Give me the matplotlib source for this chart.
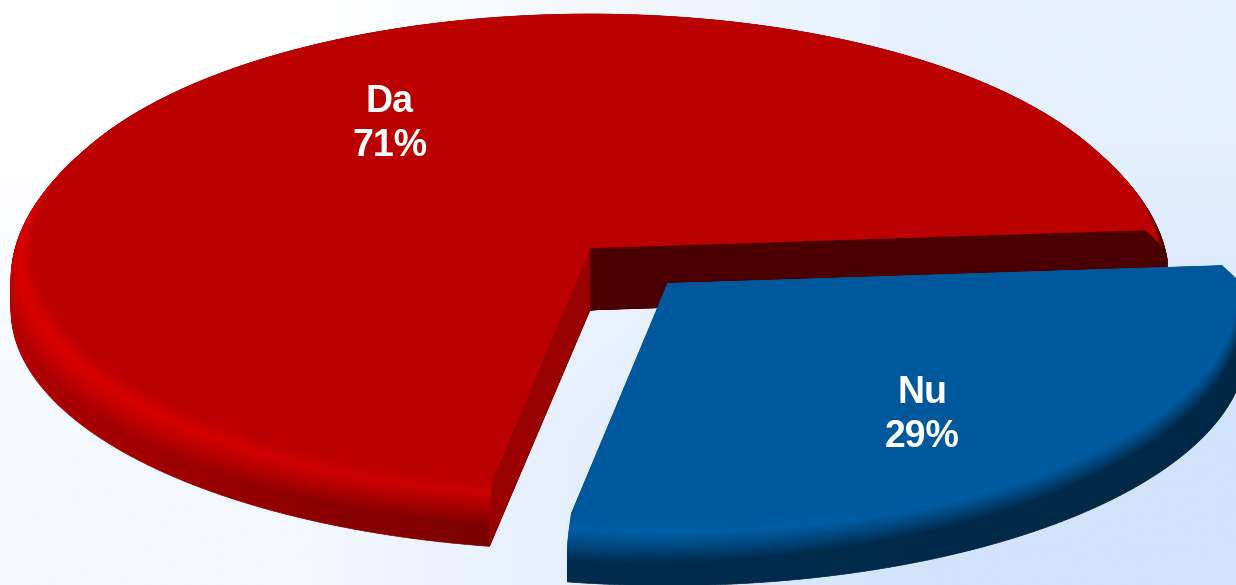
import numpy as np
import matplotlib
matplotlib.use('Agg')
import matplotlib.pyplot as plt
from matplotlib.collections import PolyCollection
from matplotlib.colors import to_rgb

categories = ['Da', 'Nu']
shares = [71, 29]

# pie geometry in pixels
cx, cy = 590, 248
rx_flat, ry_flat = 556, 234
rx_out, ry_out = 579, 240
depth = 62
start_angle = -4.4
explode = 0.2

flat_colors = ['#BA0000', '#00589C']
wall_colors = [['#4A0000', '#990000'], [None, None]]
angle_stops = [-10, 100, 140, 180, 220, 270, 330, 360]
dark_at = [20, 42, 42, 38, 38, 30, 22, 20]
bright_stops = [
    ['#BA0000', '#C80000', '#D60000', '#DA0000', '#CE0000', '#BA0000', '#BA0000', '#BA0000'],
    ['#00589C', '#005EA6', '#00589C', '#00589C', '#00589C', '#00589C', '#00589C', '#00589C'],
]
dark_stops = [
    ['#7A0000', '#7A0000', '#A00000', '#B80000', '#B80000', '#A00000', '#6A0000', '#3A0000'],
    ['#002642', '#002B4D', '#002B4D', '#002B4D', '#002B4D', '#002B4D', '#002B4D', '#002B4D'],
]


def profile(n=64):
    # rounded edge first, then the straight side of the disc
    dy = np.linspace(0, depth, n)
    grow = np.sin(np.pi / 2 * np.clip(dy / 32, 0, 1))
    return dy, rx_flat + (rx_out - rx_flat) * grow, ry_flat + (ry_out - ry_flat) * grow


def blend(stops, angle):
    rgb = np.array([to_rgb(c) for c in stops])
    return np.array([np.interp(angle, angle_stops, rgb[:, k]) for k in range(3)])


def rim_color(i, angle, dy):
    flat = np.array(to_rgb(flat_colors[i]))
    bright = blend(bright_stops[i], angle)
    dark = blend(dark_stops[i], angle)
    stop = np.interp(angle, angle_stops, dark_at)
    if dy < 12:
        return flat + (bright - flat) * dy / 12
    if dy < stop:
        return bright + (dark - bright) * (dy - 12) / (stop - 12)
    return dark


def draw_slice(ax, i, a0, a1, ox, oy):
    dy, rx, ry = profile()
    angles = np.linspace(a0, a1, 200)
    rad = np.radians(angles)

    # walls of the cuts
    for k, a in enumerate([a0, a1]):
        if wall_colors[i][k] is None:
            continue
        t = np.radians(a)
        px = cx + ox + rx * np.cos(t)
        py = cy + oy + dy + ry * np.sin(t)
        xs = np.r_[cx + ox, px, cx + ox]
        ys = np.r_[cy + oy, py, cy + oy + depth]
        ax.fill(xs, ys, color=wall_colors[i][k], lw=0.3, zorder=2 + i * 10)

    # rim as stacked fans, lowest layer first, each one paints over the one below
    polys, colors = [], []
    for j in range(len(dy) - 1, -1, -1):
        ax_x = cx + ox
        ax_y = cy + oy + dy[j]
        x0 = ax_x + rx[j] * np.cos(rad)
        y0 = ax_y + ry[j] * np.sin(rad)
        for m in range(len(angles) - 1):
            polys.append([(ax_x, ax_y), (x0[m], y0[m]), (x0[m + 1], y0[m + 1])])
            colors.append(rim_color(i, angles[m], dy[j]))
    ax.add_collection(PolyCollection(polys, facecolors=colors, edgecolors=colors, linewidths=0.5,
                                     zorder=1 + i * 10))

    # flat top
    xs = np.r_[cx + ox, cx + ox + rx_flat * np.cos(rad)]
    ys = np.r_[cy + oy, cy + oy + ry_flat * np.sin(rad)]
    ax.fill(xs, ys, color=flat_colors[i], lw=0.3, zorder=3 + i * 10)


fig = plt.figure(figsize=(12.36, 5.85), dpi=100)
ax = fig.add_axes([0, 0, 1, 1])

bg = np.array([[to_rgb('#FFFFFF'), to_rgb('#E6F0FD')], [to_rgb('#F4F8FF'), to_rgb('#D2E3FC')]])
ax.imshow(bg, extent=(0, 1236, 585, 0), interpolation='bilinear', aspect='auto', zorder=0)

fractions = np.array(shares) / sum(shares)
# the small slice starts at start_angle, the large one takes the rest
a_small = start_angle + fractions[1] * 360
mid = np.radians((start_angle + a_small) / 2)
ox = explode * rx_out * np.cos(mid)
oy = explode * ry_out * np.sin(mid)

draw_slice(ax, 0, start_angle + 360, a_small, 0, 0)
draw_slice(ax, 1, start_angle, a_small, ox, oy)

label_pos = [(390, 124), (922, 415)]
for name, share, (lx, ly) in zip(categories, shares, label_pos):
    ax.text(lx, ly, f'{name}\n{share}%', color='white', fontsize=27, fontweight='bold',
            family='Liberation Sans', ha='center', va='center', linespacing=1.3, zorder=40)

ax.set_xlim(0, 1236)
ax.set_ylim(585, 0)
ax.axis('off')
fig.savefig('out.png', dpi=100)
